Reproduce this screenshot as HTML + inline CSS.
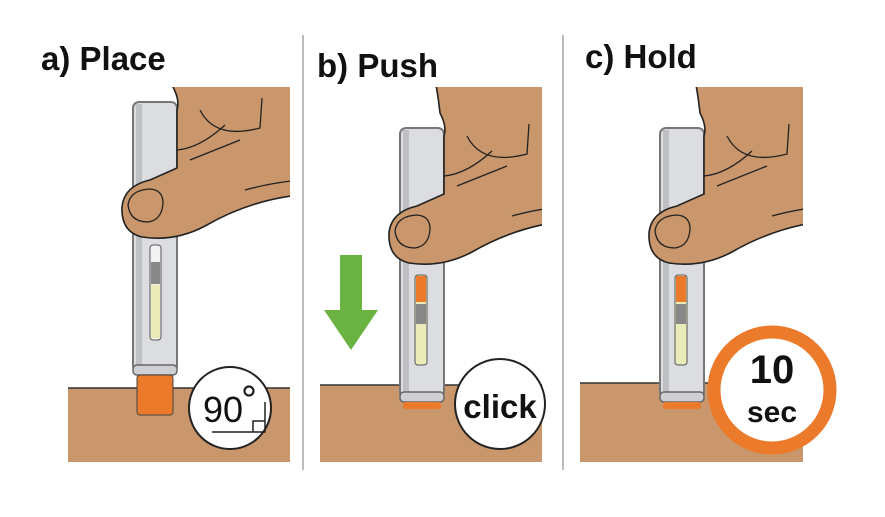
<!DOCTYPE html>
<html><head><meta charset="utf-8"><style>
html,body{margin:0;padding:0;background:#fff;}
svg{display:block;}
text{font-family:"Liberation Sans",Arial,sans-serif;font-weight:bold;fill:#111;}
</style></head><body>
<svg width="885" height="517" viewBox="0 0 885 517" xmlns="http://www.w3.org/2000/svg">
<defs>
  <g id="hand">
    <path d="M165,40 L300,40 L300,195 Q250,200 205,226 Q175,242 142,237 Q121,232 122,207 Q124,186 150,180 L177,168 L177,110 Q180,100 173,87 Q170,60 165,40 Z" fill="#c9976b" stroke="#222" stroke-width="1.6"/>
    <path d="M200,110 Q215,140 260,128 L262,98" fill="none" stroke="#222" stroke-width="1.3"/>
    <path d="M177,150 Q200,148 225,125 M190,160 Q215,150 240,140" fill="none" stroke="#222" stroke-width="1.3"/>
    <path d="M245,190 Q270,183 300,180" fill="none" stroke="#222" stroke-width="1.3"/>
    <path d="M128,205 Q130,190 150,189 Q163,190 163,203 Q162,220 148,222 Q130,222 128,205 Z" fill="none" stroke="#222" stroke-width="1.3"/>
  </g>
  <clipPath id="ca"><rect x="0" y="87" width="290" height="400"/></clipPath>
  <clipPath id="cb"><rect x="0" y="87" width="542" height="400"/></clipPath>
  <clipPath id="cc"><rect x="0" y="87" width="803" height="400"/></clipPath>
  <g id="pen2">
    <rect x="133" y="102" width="44" height="270" rx="6" fill="#dcdde0" stroke="#777" stroke-width="2"/>
    <rect x="136" y="104" width="6" height="266" fill="#bfc0c4"/>
    <rect x="133" y="366" width="44" height="10" rx="4" fill="#cfd0d3" stroke="#666" stroke-width="1.5"/>
    <rect x="136" y="376" width="38" height="7" rx="3" fill="#ec7a2b"/>
    <rect x="148" y="249" width="12" height="90" rx="3" fill="#e9ebb8" stroke="#555" stroke-width="1"/>
    <rect x="149" y="250" width="10" height="26" fill="#ec7a2b"/>
    <rect x="149" y="278" width="10" height="20" fill="#888"/>
  </g>
</defs>

<line x1="303" y1="35" x2="303" y2="470" stroke="#bbb" stroke-width="2"/>
<line x1="563" y1="35" x2="563" y2="470" stroke="#bbb" stroke-width="2"/>

<text x="41" y="70" font-size="33">a) Place</text>
<text x="317" y="77" font-size="33">b) Push</text>
<text x="585" y="68" font-size="33">c) Hold</text>

<!-- Panel A -->
<rect x="68" y="388" width="222" height="74" fill="#c9976b"/>
<line x1="68" y1="388" x2="290" y2="388" stroke="#333" stroke-width="1.5"/>
<rect x="133" y="102" width="44" height="270" rx="6" fill="#dcdde0" stroke="#777" stroke-width="2"/>
<rect x="136" y="104" width="6" height="266" fill="#bfc0c4"/>
<rect x="133" y="365" width="44" height="10" rx="4" fill="#cfd0d3" stroke="#666" stroke-width="1.5"/>
<rect x="137" y="375" width="36" height="40" rx="3" fill="#ec7a2b" stroke="#444" stroke-width="1"/>
<rect x="150" y="245" width="11" height="95" rx="3" fill="#f2f2f2" stroke="#555" stroke-width="1"/>
<rect x="151" y="262" width="9" height="22" fill="#888"/>
<rect x="151" y="285" width="9" height="53" fill="#e9ebb8"/>
<g clip-path="url(#ca)"><use href="#hand"/></g>
<circle cx="230" cy="408" r="41" fill="#fff" stroke="#222" stroke-width="2"/>
<text x="203" y="422" font-size="36" style="font-weight:normal">90</text>
<circle cx="249" cy="391" r="4.5" fill="none" stroke="#222" stroke-width="2.2"/>
<path d="M212,432 L265,432 L265,402 M253,432 L253,421 L265,421" fill="none" stroke="#222" stroke-width="1.5"/>

<!-- Panel B -->
<rect x="320" y="385" width="222" height="77" fill="#c9976b"/>
<line x1="320" y1="385" x2="542" y2="385" stroke="#333" stroke-width="1.5"/>
<use href="#pen2" transform="translate(267,26)"/>
<g clip-path="url(#cb)"><use href="#hand" transform="translate(267,26)"/></g>
<polygon points="340,255 362,255 362,310 378,310 351,350 324,310 340,310" fill="#6ab343"/>
<circle cx="500" cy="404" r="45" fill="#fff" stroke="#222" stroke-width="2"/>
<text x="500" y="418" font-size="33" text-anchor="middle">click</text>

<!-- Panel C -->
<rect x="580" y="383" width="223" height="79" fill="#c9976b"/>
<line x1="580" y1="383" x2="803" y2="383" stroke="#333" stroke-width="1.5"/>
<use href="#pen2" transform="translate(527,26)"/>
<g clip-path="url(#cc)"><use href="#hand" transform="translate(527,26)"/></g>
<circle cx="772" cy="390" r="58" fill="#fff" stroke="#ec7a2b" stroke-width="13"/>
<text x="772" y="383" font-size="40" text-anchor="middle">10</text>
<text x="772" y="422" font-size="30" text-anchor="middle">sec</text>
</svg>
</body></html>
